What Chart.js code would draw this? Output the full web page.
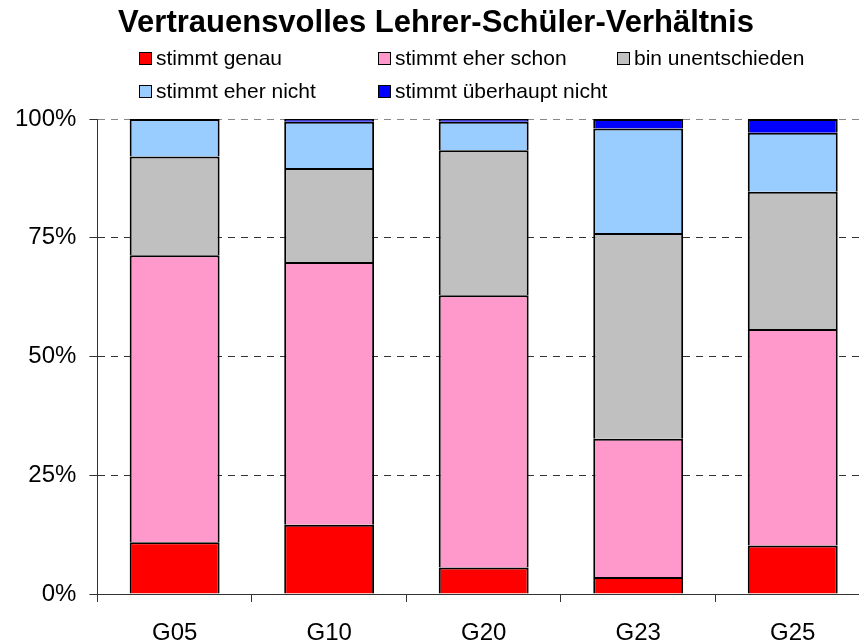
<!DOCTYPE html>
<html lang="de">
<head>
<meta charset="utf-8">
<title>Vertrauensvolles Lehrer-Schüler-Verhältnis</title>
<script src="https://cdn.jsdelivr.net/npm/chart.js@4/dist/chart.umd.min.js"></script>
<style>
  html, body { margin: 0; padding: 0; background: #fff; }
  body { width: 859px; height: 643px; overflow: hidden; position: relative;
         font-family: "Liberation Sans", Arial, sans-serif; }
  #wrap { position: absolute; left: 0; top: 0; width: 870px; height: 664px; }
  #legend { position: absolute; left: 0; top: 0; width: 859px; height: 110px; }
  .item { position: absolute; font-size: 21px; line-height: 24px; color: #000; white-space: nowrap; }
  .box { display: inline-block; width: 13px; height: 13px; box-sizing: border-box;
         border: 1px solid #000; margin-right: 4px; vertical-align: baseline; }
</style>
</head>
<body>
<div id="wrap"><canvas id="chart" width="870" height="664"></canvas></div>
<div id="legend"></div>
<script>
// Daten (Anteile in %)
const gruppen = ['G05', 'G10', 'G20', 'G23', 'G25'];
const stimmtGenau = [10.9, 14.6, 5.6, 3.6, 10.2];
const stimmtEherSchon = [60.4, 55.3, 57.3, 29.1, 45.6];
const binUnentschieden = [20.8, 19.8, 30.5, 43.3, 28.9];
const stimmtEherNicht = [7.9, 9.7, 6.0, 22.0, 12.4];
const stimmtUeberhauptNicht = [0, 0.6, 0.6, 2.0, 2.9];
const yTicks = [0, 25, 50, 75, 100];

const FONT = '"Liberation Sans", Arial, sans-serif';

function serie(label, data, farbe) {
    return {
        label: label,
        data: data,
        backgroundColor: farbe,
        borderColor: '#000',
        borderWidth: 2,
        borderSkipped: 'start',
        barPercentage: 0.582,
        categoryPercentage: 1
    };
}

const chart = new Chart(document.getElementById('chart').getContext('2d'), {
    type: 'bar',
    data: {
        labels: gruppen,
        datasets: [
            serie('stimmt genau', stimmtGenau, '#ff0000'),
            serie('stimmt eher schon', stimmtEherSchon, '#ff99cc'),
            serie('bin unentschieden', binUnentschieden, '#c0c0c0'),
            serie('stimmt eher nicht', stimmtEherNicht, '#99ccff'),
            serie('stimmt überhaupt nicht', stimmtUeberhauptNicht, '#0000ff')
        ]
    },
    options: {
        responsive: false,
        animation: false,
        devicePixelRatio: 1,
        layout: { padding: { left: 2, right: 0, top: 0, bottom: 0 } },
        plugins: {
            legend: { display: false },
            tooltip: { enabled: false },
            title: {
                display: true,
                text: 'Vertrauensvolles Lehrer-Schüler-Verhältnis',
                color: '#000',
                font: { family: FONT, size: 31, weight: 'bold', lineHeight: 1.2 },
                padding: { top: 4.5, bottom: 77.3 }
            }
        },
        scales: {
            x: {
                stacked: true,
                offset: true,
                border: { display: true, color: '#333', width: 1 },
                grid: {
                    offset: true,
                    drawOnChartArea: false,
                    drawTicks: true,
                    tickLength: 8,
                    tickColor: '#333',
                    tickWidth: 1
                },
                ticks: {
                    color: '#000',
                    padding: 19,
                    maxRotation: 0,
                    font: { family: FONT, size: 24, lineHeight: 1 }
                }
            },
            y: {
                stacked: true,
                min: 0,
                max: 100,
                afterBuildTicks: axis => { axis.ticks = yTicks.map(v => ({ value: v })); },
                // in v4 steuert border.dash die Gitterlinien
                border: { display: true, color: '#333', width: 1, dash: [7, 6] },
                grid: {
                    color: ctx => ctx.tick && ctx.tick.value === 0 ? 'rgba(0,0,0,0)'
                        : (ctx.tick && ctx.tick.value === 100 ? '#888' : '#333'),
                    lineWidth: 1,
                    tickLength: 8,
                    tickColor: '#333',
                    tickBorderDash: [],
                    tickWidth: 1
                },
                ticks: {
                    color: '#000',
                    padding: 13,
                    font: { family: FONT, size: 24, lineHeight: 1 },
                    callback: v => v + '%'
                }
            }
        }
    }
});

// Legende als HTML, drei Spalten wie im Original
const legende = document.getElementById('legend');
chart.data.datasets.forEach((ds, i) => {
    const spalte = i % 3;
    const zeile = Math.floor(i / 3);
    const el = document.createElement('div');
    el.className = 'item';
    el.style.left = (139 + spalte * 239) + 'px';
    el.style.top = (46 + zeile * 33) + 'px';
    el.innerHTML = '<span class="box" style="background:' + ds.backgroundColor + '"></span>' + ds.label;
    legende.appendChild(el);
});
</script>
</body>
</html>
